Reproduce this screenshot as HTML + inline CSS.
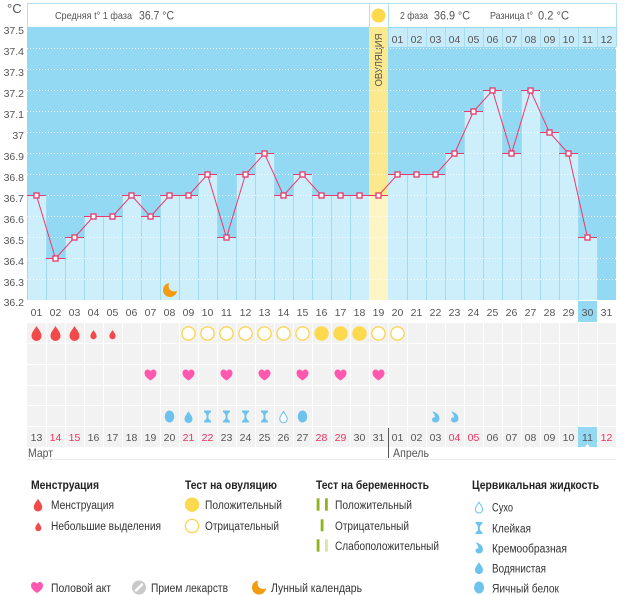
<!DOCTYPE html>
<html><head><meta charset="utf-8">
<style>
html,body{margin:0;padding:0;background:#fff;}
svg{display:block}
text{font-family:"Liberation Sans","DejaVu Sans",sans-serif;}
</style></head>
<body>
<svg width="626" height="595" viewBox="0 0 626 595" xmlns="http://www.w3.org/2000/svg">
<defs>
<path id="drop" d="M0,-8 C1.5,-5 5,-2 5,2 A5,5 0 0 1 -5,2 C-5,-2 -1.5,-5 0,-8Z"/>
<path id="heart" d="M0,5.5 C-2,4 -6,1.5 -6,-1.8 C-6,-4.3 -4.2,-5.5 -3,-5.5 C-1.5,-5.5 -0.5,-4.6 0,-3.6 C0.5,-4.6 1.5,-5.5 3,-5.5 C4.2,-5.5 6,-4.3 6,-1.8 C6,1.5 2,4 0,5.5Z" fill="#ff58ae"/>
<path id="moon" d="M-0.61,-6.97 A7,7 0 1 0 6.97,0.61 A5.5,5.5 0 0 1 -0.61,-6.97Z" fill="#f39c12"/>
<path id="sticky" d="M-3.5,-6 H3.5 V-4.5 C1,-3 0.9,-1 0.9,0 C0.9,1 1,3 3.5,4.5 V6 H-3.5 V4.5 C-1,3 -0.9,1 -0.9,0 C-0.9,-1 -1,-3 -3.5,-4.5Z" fill="#6ec3ee"/>
<path id="creamy" d="M-3.5,-5.5 C1,-5 4,-2 4,1.5 C4,4 2,5.5 0,5.5 C-2,5.5 -3.5,4 -3.5,2.5 C-3.5,1 -2,0 -0.5,0.5 C-0.5,-2 -2,-4 -3.5,-5.5Z" fill="#6ec3ee"/>
</defs>

<!-- header -->
<rect x="27.5" y="3.5" width="589" height="24" fill="#fff" stroke="#b0e0f3"/>
<line x1="369.5" y1="3.5" x2="369.5" y2="27.5" stroke="#b0e0f3"/>
<line x1="388.5" y1="3.5" x2="388.5" y2="27.5" stroke="#b0e0f3"/>
<circle cx="378.5" cy="15.5" r="7" fill="#fdd94e"/>
<text x="55" y="19" font-size="10.5" fill="#555" textLength="77" lengthAdjust="spacingAndGlyphs">Средняя t° 1 фаза</text>
<text x="139" y="19.5" font-size="11.5" fill="#555" textLength="35" lengthAdjust="spacingAndGlyphs">36.7 °C</text>
<text x="400" y="19" font-size="10.5" fill="#555" textLength="28" lengthAdjust="spacingAndGlyphs">2 фаза</text>
<text x="434" y="19.5" font-size="11.5" fill="#555" textLength="36" lengthAdjust="spacingAndGlyphs">36.9 °C</text>
<text x="490" y="19" font-size="10.5" fill="#555" textLength="43" lengthAdjust="spacingAndGlyphs">Разница t°</text>
<text x="538" y="19.5" font-size="11.5" fill="#555" textLength="31" lengthAdjust="spacingAndGlyphs">0.2 °C</text>

<!-- y axis -->
<text x="7" y="13" font-size="13" fill="#555">°C</text>
<g font-size="10.5" fill="#555" text-anchor="end">
<text x="24" y="34">37.5</text>
<text x="24" y="55">37.4</text>
<text x="24" y="76">37.3</text>
<text x="24" y="97">37.2</text>
<text x="24" y="118">37.1</text>
<text x="24" y="139">37</text>
<text x="24" y="160">36.9</text>
<text x="24" y="181">36.8</text>
<text x="24" y="202">36.7</text>
<text x="24" y="223">36.6</text>
<text x="24" y="244">36.5</text>
<text x="24" y="265">36.4</text>
<text x="24" y="286">36.3</text>
<text x="24" y="306">36.2</text>
</g>

<!-- plot bg -->
<rect x="27" y="27" width="589" height="273" fill="#93d9f3"/>

<!-- bars -->
<g fill="#cdeefb">
<rect x="27" y="195" width="19" height="105"/>
<rect x="46" y="258" width="19" height="42"/>
<rect x="65" y="237" width="19" height="63"/>
<rect x="84" y="216" width="19" height="84"/>
<rect x="103" y="216" width="19" height="84"/>
<rect x="122" y="195" width="19" height="105"/>
<rect x="141" y="216" width="19" height="84"/>
<rect x="160" y="195" width="19" height="105"/>
<rect x="179" y="195" width="19" height="105"/>
<rect x="198" y="174" width="19" height="126"/>
<rect x="217" y="237" width="19" height="63"/>
<rect x="236" y="174" width="19" height="126"/>
<rect x="255" y="153" width="19" height="147"/>
<rect x="274" y="195" width="19" height="105"/>
<rect x="293" y="174" width="19" height="126"/>
<rect x="312" y="195" width="19" height="105"/>
<rect x="331" y="195" width="19" height="105"/>
<rect x="350" y="195" width="19" height="105"/>
<rect x="388" y="174" width="19" height="126"/>
<rect x="407" y="174" width="19" height="126"/>
<rect x="426" y="174" width="19" height="126"/>
<rect x="445" y="153" width="19" height="147"/>
<rect x="464" y="111" width="19" height="189"/>
<rect x="483" y="90" width="19" height="210"/>
<rect x="502" y="153" width="19" height="147"/>
<rect x="521" y="90" width="19" height="210"/>
<rect x="540" y="132" width="19" height="168"/>
<rect x="559" y="153" width="19" height="147"/>
<rect x="578" y="237" width="19" height="63"/>
</g>
<!-- ovulation column -->
<rect x="369" y="27" width="19" height="168" fill="#fbe98f"/>
<rect x="369" y="195" width="19" height="105" fill="#fef5c6"/>
<text transform="translate(382,60) rotate(-90)" font-size="10" fill="#555" text-anchor="middle" textLength="53" lengthAdjust="spacingAndGlyphs">ОВУЛЯЦИЯ</text>

<!-- separators -->
<g stroke="#a3daf0" stroke-width="1">
<line x1="27.5" y1="195" x2="27.5" y2="300"/>
<line x1="46.5" y1="195" x2="46.5" y2="300"/>
<line x1="65.5" y1="237" x2="65.5" y2="300"/>
<line x1="84.5" y1="216" x2="84.5" y2="300"/>
<line x1="103.5" y1="216" x2="103.5" y2="300"/>
<line x1="122.5" y1="195" x2="122.5" y2="300"/>
<line x1="141.5" y1="195" x2="141.5" y2="300"/>
<line x1="160.5" y1="195" x2="160.5" y2="300"/>
<line x1="179.5" y1="195" x2="179.5" y2="300"/>
<line x1="198.5" y1="174" x2="198.5" y2="300"/>
<line x1="217.5" y1="174" x2="217.5" y2="300"/>
<line x1="236.5" y1="174" x2="236.5" y2="300"/>
<line x1="255.5" y1="153" x2="255.5" y2="300"/>
<line x1="274.5" y1="153" x2="274.5" y2="300"/>
<line x1="293.5" y1="174" x2="293.5" y2="300"/>
<line x1="312.5" y1="174" x2="312.5" y2="300"/>
<line x1="331.5" y1="195" x2="331.5" y2="300"/>
<line x1="350.5" y1="195" x2="350.5" y2="300"/>
<line x1="407.5" y1="174" x2="407.5" y2="300"/>
<line x1="426.5" y1="174" x2="426.5" y2="300"/>
<line x1="445.5" y1="153" x2="445.5" y2="300"/>
<line x1="464.5" y1="111" x2="464.5" y2="300"/>
<line x1="483.5" y1="90" x2="483.5" y2="300"/>
<line x1="502.5" y1="90" x2="502.5" y2="300"/>
<line x1="521.5" y1="90" x2="521.5" y2="300"/>
<line x1="540.5" y1="90" x2="540.5" y2="300"/>
<line x1="559.5" y1="132" x2="559.5" y2="300"/>
<line x1="578.5" y1="153" x2="578.5" y2="300"/>
<line x1="597.5" y1="237" x2="597.5" y2="300"/>
</g>

<!-- grid -->
<g stroke="#fff" stroke-width="1" stroke-dasharray="1,2" opacity="0.9">
<line x1="27" y1="48.5" x2="616" y2="48.5"/>
<line x1="27" y1="69.5" x2="616" y2="69.5"/>
<line x1="27" y1="90.5" x2="616" y2="90.5"/>
<line x1="27" y1="111.5" x2="616" y2="111.5"/>
<line x1="27" y1="132.5" x2="616" y2="132.5"/>
<line x1="27" y1="153.5" x2="616" y2="153.5"/>
<line x1="27" y1="174.5" x2="616" y2="174.5"/>
<line x1="27" y1="195.5" x2="616" y2="195.5"/>
<line x1="27" y1="216.5" x2="616" y2="216.5"/>
<line x1="27" y1="237.5" x2="616" y2="237.5"/>
<line x1="27" y1="258.5" x2="616" y2="258.5"/>
<line x1="27" y1="279.5" x2="616" y2="279.5"/>
</g>

<!-- phase 2 day header -->
<rect x="388" y="28" width="229" height="19" fill="#c8ebfa"/>
<g stroke="#a8dcf0">
<line x1="388.5" y1="28" x2="388.5" y2="47"/>
<line x1="407.5" y1="28" x2="407.5" y2="47"/>
<line x1="426.5" y1="28" x2="426.5" y2="47"/>
<line x1="445.5" y1="28" x2="445.5" y2="47"/>
<line x1="464.5" y1="28" x2="464.5" y2="47"/>
<line x1="483.5" y1="28" x2="483.5" y2="47"/>
<line x1="502.5" y1="28" x2="502.5" y2="47"/>
<line x1="521.5" y1="28" x2="521.5" y2="47"/>
<line x1="540.5" y1="28" x2="540.5" y2="47"/>
<line x1="559.5" y1="28" x2="559.5" y2="47"/>
<line x1="578.5" y1="28" x2="578.5" y2="47"/>
<line x1="597.5" y1="28" x2="597.5" y2="47"/>
<line x1="616.5" y1="28" x2="616.5" y2="47"/>
</g>
<g font-size="10.5" fill="#555" text-anchor="middle">
<text x="397.5" y="43">01</text><text x="416.5" y="43">02</text><text x="435.5" y="43">03</text><text x="454.5" y="43">04</text>
<text x="473.5" y="43">05</text><text x="492.5" y="43">06</text><text x="511.5" y="43">07</text><text x="530.5" y="43">08</text>
<text x="549.5" y="43">09</text><text x="568.5" y="43">10</text><text x="587.5" y="43">11</text><text x="606.5" y="43">12</text>
</g>

<!-- level lines -->
<g stroke="#ee3a6a" stroke-width="1">
<line x1="27" y1="195.5" x2="46" y2="195.5"/>
<line x1="46" y1="258.5" x2="65" y2="258.5"/>
<line x1="65" y1="237.5" x2="84" y2="237.5"/>
<line x1="84" y1="216.5" x2="103" y2="216.5"/>
<line x1="103" y1="216.5" x2="122" y2="216.5"/>
<line x1="122" y1="195.5" x2="141" y2="195.5"/>
<line x1="141" y1="216.5" x2="160" y2="216.5"/>
<line x1="160" y1="195.5" x2="179" y2="195.5"/>
<line x1="179" y1="195.5" x2="198" y2="195.5"/>
<line x1="198" y1="174.5" x2="217" y2="174.5"/>
<line x1="217" y1="237.5" x2="236" y2="237.5"/>
<line x1="236" y1="174.5" x2="255" y2="174.5"/>
<line x1="255" y1="153.5" x2="274" y2="153.5"/>
<line x1="274" y1="195.5" x2="293" y2="195.5"/>
<line x1="293" y1="174.5" x2="312" y2="174.5"/>
<line x1="312" y1="195.5" x2="331" y2="195.5"/>
<line x1="331" y1="195.5" x2="350" y2="195.5"/>
<line x1="350" y1="195.5" x2="369" y2="195.5"/>
<line x1="369" y1="195.5" x2="388" y2="195.5"/>
<line x1="388" y1="174.5" x2="407" y2="174.5"/>
<line x1="407" y1="174.5" x2="426" y2="174.5"/>
<line x1="426" y1="174.5" x2="445" y2="174.5"/>
<line x1="445" y1="153.5" x2="464" y2="153.5"/>
<line x1="464" y1="111.5" x2="483" y2="111.5"/>
<line x1="483" y1="90.5" x2="502" y2="90.5"/>
<line x1="502" y1="153.5" x2="521" y2="153.5"/>
<line x1="521" y1="90.5" x2="540" y2="90.5"/>
<line x1="540" y1="132.5" x2="559" y2="132.5"/>
<line x1="559" y1="153.5" x2="578" y2="153.5"/>
<line x1="578" y1="237.5" x2="597" y2="237.5"/>
</g>
<polyline fill="none" stroke="#ee3a6a" stroke-width="1" points="36.5,195.5 55.5,258.5 74.5,237.5 93.5,216.5 112.5,216.5 131.5,195.5 150.5,216.5 169.5,195.5 188.5,195.5 207.5,174.5 226.5,237.5 245.5,174.5 264.5,153.5 283.5,195.5 302.5,174.5 321.5,195.5 340.5,195.5 359.5,195.5 378.5,195.5 397.5,174.5 416.5,174.5 435.5,174.5 454.5,153.5 473.5,111.5 492.5,90.5 511.5,153.5 530.5,90.5 549.5,132.5 568.5,153.5 587.5,237.5"/>
<g fill="#fff" stroke="#e8366a" stroke-width="1.3">
<rect x="34" y="193" width="5" height="5"/>
<rect x="53" y="256" width="5" height="5"/>
<rect x="72" y="235" width="5" height="5"/>
<rect x="91" y="214" width="5" height="5"/>
<rect x="110" y="214" width="5" height="5"/>
<rect x="129" y="193" width="5" height="5"/>
<rect x="148" y="214" width="5" height="5"/>
<rect x="167" y="193" width="5" height="5"/>
<rect x="186" y="193" width="5" height="5"/>
<rect x="205" y="172" width="5" height="5"/>
<rect x="224" y="235" width="5" height="5"/>
<rect x="243" y="172" width="5" height="5"/>
<rect x="262" y="151" width="5" height="5"/>
<rect x="281" y="193" width="5" height="5"/>
<rect x="300" y="172" width="5" height="5"/>
<rect x="319" y="193" width="5" height="5"/>
<rect x="338" y="193" width="5" height="5"/>
<rect x="357" y="193" width="5" height="5"/>
<rect x="376" y="193" width="5" height="5"/>
<rect x="395" y="172" width="5" height="5"/>
<rect x="414" y="172" width="5" height="5"/>
<rect x="433" y="172" width="5" height="5"/>
<rect x="452" y="151" width="5" height="5"/>
<rect x="471" y="109" width="5" height="5"/>
<rect x="490" y="88" width="5" height="5"/>
<rect x="509" y="151" width="5" height="5"/>
<rect x="528" y="88" width="5" height="5"/>
<rect x="547" y="130" width="5" height="5"/>
<rect x="566" y="151" width="5" height="5"/>
<rect x="585" y="235" width="5" height="5"/>
</g>
<use href="#moon" x="170" y="290"/>

<!-- date row 1 -->
<rect x="578" y="301" width="19" height="21" fill="#93d9f3"/>
<g font-size="10.5" fill="#555" text-anchor="middle">
<text x="36.5" y="316">01</text><text x="55.5" y="316">02</text><text x="74.5" y="316">03</text><text x="93.5" y="316">04</text>
<text x="112.5" y="316">05</text><text x="131.5" y="316">06</text><text x="150.5" y="316">07</text><text x="169.5" y="316">08</text>
<text x="188.5" y="316">09</text><text x="207.5" y="316">10</text><text x="226.5" y="316">11</text><text x="245.5" y="316">12</text>
<text x="264.5" y="316">13</text><text x="283.5" y="316">14</text><text x="302.5" y="316">15</text><text x="321.5" y="316">16</text>
<text x="340.5" y="316">17</text><text x="359.5" y="316">18</text><text x="378.5" y="316">19</text><text x="397.5" y="316">20</text>
<text x="416.5" y="316">21</text><text x="435.5" y="316">22</text><text x="454.5" y="316">23</text><text x="473.5" y="316">24</text>
<text x="492.5" y="316">25</text><text x="511.5" y="316">26</text><text x="530.5" y="316">27</text><text x="549.5" y="316">28</text>
<text x="568.5" y="316">29</text><text x="587.5" y="316">30</text><text x="606.5" y="316">31</text>
</g>

<!-- icon rows -->
<g fill="#f2f2f2">
<rect x="27" y="323" width="589" height="20"/>
<rect x="27" y="344" width="589" height="20"/>
<rect x="27" y="365" width="589" height="20"/>
<rect x="27" y="386" width="589" height="19"/>
<rect x="27" y="406" width="589" height="20"/>
<rect x="27" y="427" width="589" height="20"/>
</g>
<g stroke="#fff" stroke-width="1">
<line x1="46.5" y1="323" x2="46.5" y2="447"/><line x1="65.5" y1="323" x2="65.5" y2="447"/><line x1="84.5" y1="323" x2="84.5" y2="447"/>
<line x1="103.5" y1="323" x2="103.5" y2="447"/><line x1="122.5" y1="323" x2="122.5" y2="447"/><line x1="141.5" y1="323" x2="141.5" y2="447"/>
<line x1="160.5" y1="323" x2="160.5" y2="447"/><line x1="179.5" y1="323" x2="179.5" y2="447"/><line x1="198.5" y1="323" x2="198.5" y2="447"/>
<line x1="217.5" y1="323" x2="217.5" y2="447"/><line x1="236.5" y1="323" x2="236.5" y2="447"/><line x1="255.5" y1="323" x2="255.5" y2="447"/>
<line x1="274.5" y1="323" x2="274.5" y2="447"/><line x1="293.5" y1="323" x2="293.5" y2="447"/><line x1="312.5" y1="323" x2="312.5" y2="447"/>
<line x1="331.5" y1="323" x2="331.5" y2="447"/><line x1="350.5" y1="323" x2="350.5" y2="447"/><line x1="369.5" y1="323" x2="369.5" y2="447"/>
<line x1="388.5" y1="323" x2="388.5" y2="447"/><line x1="407.5" y1="323" x2="407.5" y2="447"/><line x1="426.5" y1="323" x2="426.5" y2="447"/>
<line x1="445.5" y1="323" x2="445.5" y2="447"/><line x1="464.5" y1="323" x2="464.5" y2="447"/><line x1="483.5" y1="323" x2="483.5" y2="447"/>
<line x1="502.5" y1="323" x2="502.5" y2="447"/><line x1="521.5" y1="323" x2="521.5" y2="447"/><line x1="540.5" y1="323" x2="540.5" y2="447"/>
<line x1="559.5" y1="323" x2="559.5" y2="447"/><line x1="578.5" y1="323" x2="578.5" y2="447"/><line x1="597.5" y1="323" x2="597.5" y2="447"/>
</g>

<!-- menstruation -->
<g fill="#f24a4a">
<use href="#drop" transform="translate(36.5,334)"/>
<use href="#drop" transform="translate(55.5,334)"/>
<use href="#drop" transform="translate(74.5,334)"/>
<use href="#drop" transform="translate(93.5,335) scale(0.62)"/>
<use href="#drop" transform="translate(112.5,335) scale(0.62)"/>
</g>
<!-- ovulation tests -->
<g fill="#fff" stroke="#fcd34a" stroke-width="1.3">
<circle cx="188.5" cy="333.5" r="6.6"/><circle cx="207.5" cy="333.5" r="6.6"/><circle cx="226.5" cy="333.5" r="6.6"/>
<circle cx="245.5" cy="333.5" r="6.6"/><circle cx="264.5" cy="333.5" r="6.6"/><circle cx="283.5" cy="333.5" r="6.6"/>
<circle cx="302.5" cy="333.5" r="6.6"/><circle cx="378.5" cy="333.5" r="6.6"/><circle cx="397.5" cy="333.5" r="6.6"/>
</g>
<g fill="#fdd94e">
<circle cx="321.5" cy="333.5" r="7.2"/><circle cx="340.5" cy="333.5" r="7.2"/><circle cx="359.5" cy="333.5" r="7.2"/>
</g>
<!-- hearts -->
<use href="#heart" x="150.5" y="375"/><use href="#heart" x="188.5" y="375"/><use href="#heart" x="226.5" y="375"/>
<use href="#heart" x="264.5" y="375"/><use href="#heart" x="302.5" y="375"/><use href="#heart" x="340.5" y="375"/>
<use href="#heart" x="378.5" y="375"/>
<!-- cervical -->
<ellipse cx="169.5" cy="416.5" rx="4.8" ry="6" fill="#6ec3ee"/>
<use href="#drop" transform="translate(188.5,417.5) scale(0.8)" fill="#6ec3ee"/>
<use href="#sticky" x="207.5" y="416.5"/><use href="#sticky" x="226.5" y="416.5"/>
<use href="#sticky" x="245.5" y="416.5"/><use href="#sticky" x="264.5" y="416.5"/>
<use href="#drop" transform="translate(283.5,417.5) scale(0.75)" fill="#fff" stroke="#6ec3ee" stroke-width="1.4"/>
<ellipse cx="302.5" cy="416.5" rx="4.8" ry="6" fill="#6ec3ee"/>
<use href="#creamy" x="435.5" y="417"/><use href="#creamy" x="454.5" y="417"/>

<!-- date row 2 -->
<rect x="578" y="427" width="19" height="20" fill="#93d9f3"/>
<polygon points="585,447 587.5,444 590,447" fill="#fff"/>
<g font-size="10.5" fill="#555" text-anchor="middle">
<text x="36.5" y="441">13</text><text x="55.5" y="441" fill="#f0305c">14</text><text x="74.5" y="441" fill="#f0305c">15</text><text x="93.5" y="441">16</text>
<text x="112.5" y="441">17</text><text x="131.5" y="441">18</text><text x="150.5" y="441">19</text><text x="169.5" y="441">20</text>
<text x="188.5" y="441" fill="#f0305c">21</text><text x="207.5" y="441" fill="#f0305c">22</text><text x="226.5" y="441">23</text><text x="245.5" y="441">24</text>
<text x="264.5" y="441">25</text><text x="283.5" y="441">26</text><text x="302.5" y="441">27</text><text x="321.5" y="441" fill="#f0305c">28</text>
<text x="340.5" y="441" fill="#f0305c">29</text><text x="359.5" y="441">30</text><text x="378.5" y="441">31</text><text x="397.5" y="441">01</text>
<text x="416.5" y="441">02</text><text x="435.5" y="441">03</text><text x="454.5" y="441" fill="#f0305c">04</text><text x="473.5" y="441" fill="#f0305c">05</text>
<text x="492.5" y="441">06</text><text x="511.5" y="441">07</text><text x="530.5" y="441">08</text><text x="549.5" y="441">09</text>
<text x="568.5" y="441">10</text><text x="587.5" y="441">11</text><text x="606.5" y="441" fill="#f0305c">12</text>
</g>
<line x1="388.5" y1="428" x2="388.5" y2="458" stroke="#555"/>
<text x="28" y="457" font-size="12" fill="#555" textLength="25" lengthAdjust="spacingAndGlyphs">Март</text>
<text x="393" y="457" font-size="12" fill="#555" textLength="36" lengthAdjust="spacingAndGlyphs">Апрель</text>
<line x1="27" y1="459.5" x2="616" y2="459.5" stroke="#ececec"/>

<!-- legend -->
<g font-size="11.5" font-weight="bold" fill="#222">
<text x="31" y="489" textLength="68" lengthAdjust="spacingAndGlyphs">Менструация</text>
<text x="185" y="489" textLength="92" lengthAdjust="spacingAndGlyphs">Тест на овуляцию</text>
<text x="316" y="489" textLength="113" lengthAdjust="spacingAndGlyphs">Тест на беременность</text>
<text x="472" y="489" textLength="127" lengthAdjust="spacingAndGlyphs">Цервикальная жидкость</text>
</g>
<g font-size="11.5" fill="#333">
<text x="51" y="509" textLength="63" lengthAdjust="spacingAndGlyphs">Менструация</text>
<text x="51" y="530" textLength="110" lengthAdjust="spacingAndGlyphs">Небольшие выделения</text>
<text x="205" y="509" textLength="77" lengthAdjust="spacingAndGlyphs">Положительный</text>
<text x="205" y="530" textLength="74" lengthAdjust="spacingAndGlyphs">Отрицательный</text>
<text x="335" y="509" textLength="77" lengthAdjust="spacingAndGlyphs">Положительный</text>
<text x="335" y="530" textLength="74" lengthAdjust="spacingAndGlyphs">Отрицательный</text>
<text x="335" y="550" textLength="104" lengthAdjust="spacingAndGlyphs">Слабоположительный</text>
<text x="492" y="511.5" textLength="21" lengthAdjust="spacingAndGlyphs">Сухо</text>
<text x="492" y="532.5" textLength="39" lengthAdjust="spacingAndGlyphs">Клейкая</text>
<text x="492" y="552.5" textLength="75" lengthAdjust="spacingAndGlyphs">Кремообразная</text>
<text x="492" y="572.5" textLength="54" lengthAdjust="spacingAndGlyphs">Водянистая</text>
<text x="492" y="592.5" textLength="67" lengthAdjust="spacingAndGlyphs">Яичный белок</text>
<text x="51" y="592" textLength="60" lengthAdjust="spacingAndGlyphs">Половой акт</text>
<text x="151" y="592" textLength="77" lengthAdjust="spacingAndGlyphs">Прием лекарств</text>
<text x="271" y="592" textLength="91" lengthAdjust="spacingAndGlyphs">Лунный календарь</text>
</g>
<!-- legend icons -->
<use href="#drop" transform="translate(38,505.5) scale(0.85)" fill="#f24a4a"/>
<use href="#drop" transform="translate(38.3,527) scale(0.6)" fill="#f24a4a"/>
<circle cx="192" cy="504.7" r="7.2" fill="#fdd94e"/>
<circle cx="192" cy="526" r="6.6" fill="#fff" stroke="#fcd34a" stroke-width="1.3"/>
<g fill="#8fb51d">
<rect x="316.7" y="498.3" width="2.8" height="12.4"/>
<rect x="325" y="498.3" width="2.8" height="12.4"/>
<rect x="320.7" y="519.3" width="2.8" height="12"/>
<rect x="316.7" y="539.3" width="2.8" height="12.4"/>
</g>
<rect x="325" y="539.3" width="2.8" height="12.4" fill="#d8e5a6"/>
<use href="#drop" transform="translate(479,508) scale(0.72)" fill="#fff" stroke="#6ec3ee" stroke-width="1.4"/>
<use href="#sticky" x="479" y="528"/>
<use href="#creamy" x="479" y="548"/>
<use href="#drop" transform="translate(479,568.5) scale(0.8)" fill="#6ec3ee"/>
<ellipse cx="479" cy="587.5" rx="5" ry="6" fill="#6ec3ee"/>
<use href="#heart" x="37" y="587.5"/>
<circle cx="139" cy="587.5" r="7" fill="#c9c9c9"/>
<line x1="136" y1="590.5" x2="142" y2="584.5" stroke="#fff" stroke-width="2.4" stroke-linecap="round"/>
<use href="#moon" x="259" y="587.5"/>
</svg>
</body></html>
